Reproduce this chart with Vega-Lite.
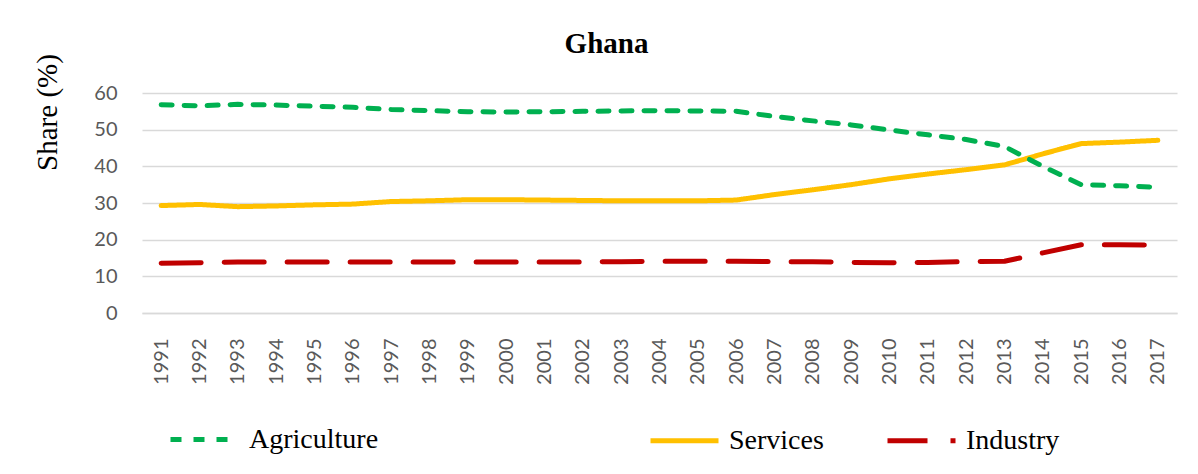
{
  "$schema": "https://vega.github.io/schema/vega-lite/v6.json",
  "width": 1035,
  "height": 220,
  "autosize": {"type": "none"},
  "padding": {"left": 142, "top": 93, "right": 21, "bottom": 161},
  "background": "white",
  "title": {
    "text": "Ghana",
    "font": "Liberation Serif",
    "fontSize": 29,
    "fontWeight": "bold",
    "color": "black",
    "anchor": "middle",
    "frame": "group",
    "dx": -53,
    "baseline": "alphabetic",
    "offset": -28
  },
  "data": {
    "values": [
      {"year": "1991", "series": "Agriculture", "value": 56.8},
      {"year": "1992", "series": "Agriculture", "value": 56.5},
      {"year": "1993", "series": "Agriculture", "value": 56.9},
      {"year": "1994", "series": "Agriculture", "value": 56.7},
      {"year": "1995", "series": "Agriculture", "value": 56.4},
      {"year": "1996", "series": "Agriculture", "value": 56.1},
      {"year": "1997", "series": "Agriculture", "value": 55.5},
      {"year": "1998", "series": "Agriculture", "value": 55.2},
      {"year": "1999", "series": "Agriculture", "value": 54.9},
      {"year": "2000", "series": "Agriculture", "value": 54.8},
      {"year": "2001", "series": "Agriculture", "value": 54.9},
      {"year": "2002", "series": "Agriculture", "value": 55.0},
      {"year": "2003", "series": "Agriculture", "value": 55.1},
      {"year": "2004", "series": "Agriculture", "value": 55.2},
      {"year": "2005", "series": "Agriculture", "value": 55.1},
      {"year": "2006", "series": "Agriculture", "value": 55.0},
      {"year": "2007", "series": "Agriculture", "value": 53.6},
      {"year": "2008", "series": "Agriculture", "value": 52.4},
      {"year": "2009", "series": "Agriculture", "value": 51.3},
      {"year": "2010", "series": "Agriculture", "value": 49.9},
      {"year": "2011", "series": "Agriculture", "value": 48.6},
      {"year": "2012", "series": "Agriculture", "value": 47.3},
      {"year": "2013", "series": "Agriculture", "value": 45.4},
      {"year": "2014", "series": "Agriculture", "value": 40.0},
      {"year": "2015", "series": "Agriculture", "value": 35.0},
      {"year": "2016", "series": "Agriculture", "value": 34.7},
      {"year": "2017", "series": "Agriculture", "value": 34.3},
      {"year": "1991", "series": "Services", "value": 29.3},
      {"year": "1992", "series": "Services", "value": 29.6},
      {"year": "1993", "series": "Services", "value": 29.0},
      {"year": "1994", "series": "Services", "value": 29.2},
      {"year": "1995", "series": "Services", "value": 29.5},
      {"year": "1996", "series": "Services", "value": 29.7},
      {"year": "1997", "series": "Services", "value": 30.4},
      {"year": "1998", "series": "Services", "value": 30.6},
      {"year": "1999", "series": "Services", "value": 30.9},
      {"year": "2000", "series": "Services", "value": 30.9},
      {"year": "2001", "series": "Services", "value": 30.8},
      {"year": "2002", "series": "Services", "value": 30.7},
      {"year": "2003", "series": "Services", "value": 30.6},
      {"year": "2004", "series": "Services", "value": 30.6},
      {"year": "2005", "series": "Services", "value": 30.6},
      {"year": "2006", "series": "Services", "value": 30.8},
      {"year": "2007", "series": "Services", "value": 32.3},
      {"year": "2008", "series": "Services", "value": 33.6},
      {"year": "2009", "series": "Services", "value": 35.0},
      {"year": "2010", "series": "Services", "value": 36.6},
      {"year": "2011", "series": "Services", "value": 37.9},
      {"year": "2012", "series": "Services", "value": 39.1},
      {"year": "2013", "series": "Services", "value": 40.4},
      {"year": "2014", "series": "Services", "value": 43.4},
      {"year": "2015", "series": "Services", "value": 46.2},
      {"year": "2016", "series": "Services", "value": 46.6},
      {"year": "2017", "series": "Services", "value": 47.1},
      {"year": "1991", "series": "Industry", "value": 13.6},
      {"year": "1992", "series": "Industry", "value": 13.7},
      {"year": "1993", "series": "Industry", "value": 13.9},
      {"year": "1994", "series": "Industry", "value": 13.9},
      {"year": "1995", "series": "Industry", "value": 13.9},
      {"year": "1996", "series": "Industry", "value": 13.9},
      {"year": "1997", "series": "Industry", "value": 13.9},
      {"year": "1998", "series": "Industry", "value": 13.9},
      {"year": "1999", "series": "Industry", "value": 13.9},
      {"year": "2000", "series": "Industry", "value": 13.9},
      {"year": "2001", "series": "Industry", "value": 13.9},
      {"year": "2002", "series": "Industry", "value": 13.9},
      {"year": "2003", "series": "Industry", "value": 14.0},
      {"year": "2004", "series": "Industry", "value": 14.1},
      {"year": "2005", "series": "Industry", "value": 14.1},
      {"year": "2006", "series": "Industry", "value": 14.1},
      {"year": "2007", "series": "Industry", "value": 14.0},
      {"year": "2008", "series": "Industry", "value": 14.0},
      {"year": "2009", "series": "Industry", "value": 13.8},
      {"year": "2010", "series": "Industry", "value": 13.7},
      {"year": "2011", "series": "Industry", "value": 13.8},
      {"year": "2012", "series": "Industry", "value": 14.0},
      {"year": "2013", "series": "Industry", "value": 14.1},
      {"year": "2014", "series": "Industry", "value": 16.4},
      {"year": "2015", "series": "Industry", "value": 18.6},
      {"year": "2016", "series": "Industry", "value": 18.6},
      {"year": "2017", "series": "Industry", "value": 18.5}
    ]
  },
  "encoding": {
    "x": {
      "field": "year",
      "type": "ordinal",
      "scale": {"type": "point", "padding": 0.5},
      "axis": {
        "title": null,
        "labelAngle": 270,
        "labelAlign": "right",
        "labelBaseline": "middle",
        "labelFont": "Lato",
        "labelFontSize": 20,
        "labelColor": "#595959",
        "labelPadding": 25,
        "ticks": false,
        "tickSize": 0,
        "domain": true,
        "domainColor": "#D9D9D9",
        "domainWidth": 1.5,
        "grid": false
      }
    },
    "y": {
      "field": "value",
      "type": "quantitative",
      "scale": {"domain": [0, 60], "nice": false},
      "axis": {
        "values": [0, 10, 20, 30, 40, 50, 60],
        "title": "Share (%)",
        "titleFont": "Liberation Serif",
        "titleFontSize": 29,
        "titleFontWeight": "normal",
        "titleColor": "black",
        "titleAngle": 270,
        "titleAlign": "center",
        "titleBaseline": "middle",
        "titleX": -95,
        "titleY": 19,
        "labelFont": "Lato",
        "labelFontSize": 20,
        "labelColor": "#595959",
        "labelPadding": 25,
        "ticks": false,
        "tickSize": 0,
        "domain": false,
        "grid": true,
        "gridColor": "#D9D9D9",
        "gridWidth": 1.5
      }
    }
  },
  "layer": [
    {
      "transform": [{"filter": "datum.series === 'Services' || datum.series === 'Industry'"}],
      "mark": {"type": "line", "strokeWidth": 5, "strokeCap": "round", "strokeJoin": "round"},
      "encoding": {
        "color": {
          "field": "series",
          "type": "nominal",
          "sort": ["Services", "Industry"],
          "scale": {"domain": ["Services", "Industry"], "range": ["#FFC000", "#C00000"]},
          "legend": {
            "title": null,
            "orient": "none",
            "direction": "horizontal",
            "columns": 2,
            "legendX": 506,
            "legendY": 311,
            "symbolType": "stroke",
            "symbolSize": 4624,
            "symbolStrokeWidth": 5,
            "labelFont": "Liberation Serif",
            "labelFontSize": 28,
            "labelColor": "black",
            "labelOffset": 8,
            "columnPadding": 53,
            "labelLimit": 300
          }
        },
        "strokeDash": {
          "field": "series",
          "type": "nominal",
          "sort": ["Services", "Industry"],
          "scale": {"domain": ["Services", "Industry"], "range": [[1, 0], [40, 23]]},
          "legend": {
            "title": null,
            "orient": "none",
            "direction": "horizontal",
            "columns": 2,
            "legendX": 506,
            "legendY": 311,
            "symbolType": "stroke",
            "symbolSize": 4624,
            "symbolStrokeWidth": 5,
            "labelFont": "Liberation Serif",
            "labelFontSize": 28,
            "labelColor": "black",
            "labelOffset": 8,
            "columnPadding": 53,
            "labelLimit": 300
          }
        }
      }
    },
    {
      "transform": [{"filter": "datum.series === 'Agriculture'"}],
      "mark": {"type": "line", "strokeWidth": 5, "strokeCap": "round", "strokeJoin": "round"},
      "encoding": {
        "color": {
          "field": "series",
          "type": "nominal",
          "scale": {"domain": ["Agriculture"], "range": ["#00B050"]},
          "legend": {
            "title": null,
            "orient": "none",
            "legendX": 26,
            "legendY": 313,
            "symbolType": "stroke",
            "symbolSize": 3844,
            "symbolStrokeWidth": 5,
            "labelFont": "Liberation Serif",
            "labelFontSize": 28,
            "labelColor": "black",
            "labelOffset": 14,
            "labelLimit": 300
          }
        },
        "strokeDash": {
          "field": "series",
          "type": "nominal",
          "scale": {"domain": ["Agriculture"], "range": [[11, 12]]},
          "legend": {
            "title": null,
            "orient": "none",
            "legendX": 26,
            "legendY": 313,
            "symbolType": "stroke",
            "symbolSize": 3844,
            "symbolStrokeWidth": 5,
            "labelFont": "Liberation Serif",
            "labelFontSize": 28,
            "labelColor": "black",
            "labelOffset": 14,
            "labelLimit": 300
          }
        }
      }
    }
  ],
  "resolve": {"scale": {"color": "independent", "strokeDash": "independent"}},
  "config": {"view": {"stroke": null}}
}
